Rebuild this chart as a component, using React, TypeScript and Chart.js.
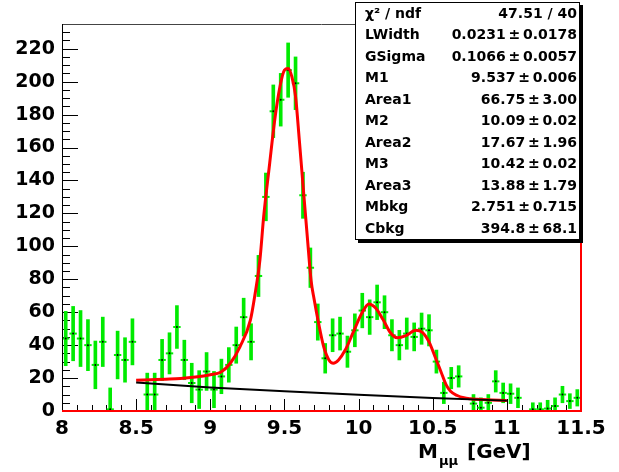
import React, { useEffect, useRef } from "react";
import { Chart, registerables } from "chart.js";

Chart.register(...registerables);

// ---- data ----
const binCenters = [
  8.025, 8.075, 8.125, 8.175, 8.225, 8.275, 8.325, 8.375, 8.425, 8.475,
  8.525, 8.575, 8.625, 8.675, 8.725, 8.775, 8.825, 8.875, 8.925, 8.975,
  9.025, 9.075, 9.125, 9.175, 9.225, 9.275, 9.325, 9.375, 9.425, 9.475,
  9.525, 9.575, 9.625, 9.675, 9.725, 9.775, 9.825, 9.875, 9.925, 9.975,
  10.025, 10.075, 10.125, 10.175, 10.225, 10.275, 10.325, 10.375, 10.425, 10.475,
  10.525, 10.575, 10.625, 10.675, 10.725, 10.775, 10.825, 10.875, 10.925, 10.975,
  11.025, 11.075, 11.125, 11.175, 11.225, 11.275, 11.325, 11.375, 11.425, 11.475,
];
const counts: (number | null)[] = [
  44, 47, 44, 40, 28, 42, 1, 34, 31, 42,
  null, 10, 10, 31, 35, 51, 31, 17, 13, 24,
  13, 21, 28, 40, 57, 42, 82, 130, 182, 189,
  207, 199, 131, 87, 54, 32, 46, 47, 36, 49,
  61, 57, 66, 60, 46, 40, 47, 45, 50, 49,
  30, 11, 20, 21, null, 4.5, 2, 5, 18, 11,
  10.5, 8, null, 1, 1, 1.5, 3, 10, 6, 8,
];
const errors = [
  16.5, 16.5, 17, 15.5, 14.5, 15, 13, 14.5, 13.5, 14,
  0, 13, 13, 12.5, 12.5, 13, 12, 12, 11.5, 11.5,
  11, 10.5, 10.5, 11, 11.5, 11, 12.5, 14.5, 16, 16,
  16.5, 16, 14, 12, 11, 9, 10, 10, 9.5, 10,
  10.5, 10.5, 10.5, 10, 9.5, 9, 9.5, 8.5, 9.5, 9.5,
  7, 6.5, 6.5, 6.5, 0, 5.5, 6, 5, 6.5, 6,
  6, 6, 0, 4, 4, 5, 5, 5, 4.5, 5,
];

const fitMass = [
  8.5, 8.6, 8.7, 8.8, 8.9, 9.0, 9.07, 9.135, 9.2, 9.27, 9.3, 9.335, 9.36, 9.4,
  9.435, 9.47, 9.5, 9.525, 9.55, 9.575, 9.6, 9.63, 9.655, 9.68, 9.7, 9.73,
  9.765, 9.8, 9.83, 9.865, 9.91, 9.965, 10.02, 10.07, 10.115, 10.165, 10.215,
  10.26, 10.32, 10.385, 10.43, 10.475, 10.52, 10.555, 10.59, 10.62, 10.665,
  10.71, 10.755, 10.8, 10.9, 11.0,
];
const fitValue = [
  18.7, 19, 19.3, 19.7, 20.6, 22, 23.5, 29, 39, 55, 70, 92, 118, 150,
  177, 197, 207, 208, 203, 191, 165, 132, 105, 79, 68, 53.5,
  39, 31, 29, 31, 37, 48, 59, 65, 62.5, 55.5, 47.5,
  44.5, 45.8, 49, 47.8, 42, 32, 24, 16, 12, 9.4,
  8, 7.4, 7.1, 6.7, 6.3,
];

const bkgMass = [8.5, 9.0, 9.5, 10.0, 10.5, 11.0];
const bkgValue = [17.3, 14.3, 12.0, 9.8, 7.9, 6.3];

const xTickLabels = [8, 8.5, 9, 9.5, 10, 10.5, 11, 11.5];
const yTickLabels = [0, 20, 40, 60, 80, 100, 120, 140, 160, 180, 200, 220];

const statNames = ["\u03C7\u00B2 / ndf", "LWidth", "GSigma", "M1", "Area1", "M2", "Area2", "M3", "Area3", "Mbkg", "Cbkg"];
const PM = "\u2009\u00B1\u2009";
const statValues = [
  "47.51 / 40",
  "0.0231" + PM + "0.0178",
  "0.1066" + PM + "0.0057",
  "9.537" + PM + "0.006",
  "66.75" + PM + "3.00",
  "10.09" + PM + "0.02",
  "17.67" + PM + "1.96",
  "10.42" + PM + "0.02",
  "13.88" + PM + "1.79",
  "2.751" + PM + "0.715",
  "394.8" + PM + "68.1",
];

const X_MIN = 8;
const X_MAX = 11.5;
const Y_MIN = 0;
const Y_MAX = 235;

const GREEN = "rgb(0,235,0)";
const RED = "rgb(255,0,0)";
const FONT = '"DejaVu Sans", "Liberation Sans", sans-serif';

const rootPlugin = {
  id: "rootFrame",
  beforeDatasetsDraw(chart: any) {
    const { ctx, chartArea: a, scales } = chart;
    const xs = scales.x;
    const ys = scales.y;
    ctx.save();
    ctx.strokeStyle = "#000";
    ctx.lineWidth = 1;
    ctx.beginPath();
    for (let v = Y_MIN; v <= Y_MAX; v += 5) {
      const p = Math.round(ys.getPixelForValue(v)) + 0.5;
      const len = v % 20 === 0 ? 16 : 8;
      ctx.moveTo(a.left, p);
      ctx.lineTo(a.left + len, p);
    }
    for (let i = 0; i <= 35; i++) {
      const v = X_MIN + i * 0.1;
      const p = Math.round(xs.getPixelForValue(v)) + 0.5;
      const len = i % 5 === 0 ? 12 : 6;
      ctx.moveTo(p, a.bottom);
      ctx.lineTo(p, a.bottom - len);
    }
    ctx.stroke();
    ctx.restore();
  },
  afterDatasetsDraw(chart: any) {
    const { ctx, chartArea: a } = chart;
    ctx.save();
    // top frame (gray) and left axis (black)
    ctx.lineWidth = 1;
    ctx.strokeStyle = "#444";
    ctx.beginPath();
    ctx.moveTo(a.left, a.top + 0.5);
    ctx.lineTo(a.right, a.top + 0.5);
    ctx.stroke();
    ctx.strokeStyle = "#000";
    ctx.beginPath();
    ctx.moveTo(a.left + 0.5, a.top);
    ctx.lineTo(a.left + 0.5, a.bottom);
    ctx.stroke();
    // red right and bottom frame lines
    ctx.strokeStyle = RED;
    ctx.lineWidth = 2;
    ctx.beginPath();
    ctx.moveTo(a.right, a.top);
    ctx.lineTo(a.right, a.bottom + 1);
    ctx.moveTo(a.left, a.bottom);
    ctx.lineTo(a.right + 1, a.bottom);
    ctx.stroke();
    ctx.restore();
  },
  afterDraw(chart: any) {
    const { ctx } = chart;
    ctx.save();
    // axis title  M_{mu mu} [GeV]
    ctx.fillStyle = "#000";
    ctx.textBaseline = "alphabetic";
    ctx.textAlign = "left";
    ctx.font = "bold 20px " + FONT;
    ctx.fillText("M", 418, 458);
    ctx.font = "bold 13px " + FONT;
    ctx.fillText("\u03BC\u03BC", 439, 465);
    ctx.font = "bold 20px " + FONT;
    ctx.fillText("[GeV]", 467, 458);

    // stats box
    const bx = 355, by = 2, bw = 225, bh = 238;
    ctx.fillStyle = "#000";
    ctx.fillRect(bx + 3, by + 3, bw, bh);
    ctx.fillStyle = "#fff";
    ctx.fillRect(bx, by, bw, bh);
    ctx.strokeStyle = "#000";
    ctx.lineWidth = 1;
    ctx.strokeRect(bx + 0.5, by + 0.5, bw - 1, bh - 1);
    ctx.fillStyle = "#000";
    ctx.font = "bold 14px " + FONT;
    ctx.textBaseline = "middle";
    for (let i = 0; i < statNames.length; i++) {
      const y = 14 + i * 21.5;
      ctx.textAlign = "left";
      ctx.fillText(statNames[i], 365, y);
      ctx.textAlign = "right";
      ctx.fillText(statValues[i], 577, y);
    }
    ctx.restore();
  },
};

export default function App() {
  const ref = useRef<HTMLCanvasElement | null>(null);

  useEffect(() => {
    const canvas = ref.current;
    if (!canvas) return;

    const barData: any[] = [];
    const capData: any[] = [];
    for (let i = 0; i < binCenters.length; i++) {
      const v = counts[i];
      if (v === null) continue;
      barData.push({ x: binCenters[i], y: [v - errors[i], v + errors[i]] });
      capData.push({ x: binCenters[i], y: v });
    }
    const fitData = fitMass.map((m, i) => ({ x: m, y: fitValue[i] }));
    const bkgData = bkgMass.map((m, i) => ({ x: m, y: bkgValue[i] }));

    const chart = new Chart(canvas, {
      type: "scatter",
      data: {
        datasets: [
          {
            type: "line",
            label: "bkg",
            data: bkgData,
            borderColor: "#000",
            borderWidth: 2,
            pointRadius: 0,
            tension: 0,
            fill: false,
            order: 1,
          } as any,
          {
            type: "line",
            label: "fit",
            data: fitData,
            borderColor: RED,
            borderWidth: 3,
            pointRadius: 0,
            cubicInterpolationMode: "monotone",
            fill: false,
            order: 2,
          } as any,
          {
            type: "scatter",
            label: "markers",
            data: capData,
            pointStyle: "circle",
            pointRadius: 1,
            backgroundColor: "#000",
            borderWidth: 0,
            order: 3,
          } as any,
          {
            type: "scatter",
            label: "caps",
            data: capData,
            pointStyle: "line",
            pointRadius: 3.7,
            borderColor: GREEN,
            borderWidth: 2,
            order: 4,
          } as any,
          {
            type: "bar",
            label: "errors",
            data: barData,
            backgroundColor: GREEN,
            borderWidth: 0,
            barThickness: 3,
            order: 5,
          } as any,
        ],
      },
      options: {
        responsive: false,
        animation: false,
        events: [],
        devicePixelRatio: 1,
        layout: { padding: { left: 0, right: 38, top: 24, bottom: 0 } },
        plugins: {
          legend: { display: false },
          tooltip: { enabled: false },
          title: { display: false },
        },
        scales: {
          x: {
            type: "linear",
            min: X_MIN,
            max: X_MAX,
            offset: false,
            grid: { display: false, drawTicks: false, offset: false },
            border: { display: false },
            afterBuildTicks: (s: any) => {
              s.ticks = xTickLabels.map((v) => ({ value: v }));
            },
            afterFit: (s: any) => {
              s.height = 61;
            },
            ticks: {
              autoSkip: false,
              maxRotation: 0,
              padding: 6,
              color: "#000",
              font: { family: FONT, size: 20, weight: "bold" },
              callback: (v: any) => String(v),
            },
          },
          y: {
            type: "linear",
            min: Y_MIN,
            max: Y_MAX,
            grid: { display: false, drawTicks: false },
            border: { display: false },
            afterBuildTicks: (s: any) => {
              s.ticks = yTickLabels.map((v) => ({ value: v }));
            },
            afterFit: (s: any) => {
              s.width = 62;
            },
            ticks: {
              autoSkip: false,
              padding: 7,
              color: "#000",
              font: { family: FONT, size: 19, weight: "bold" },
              callback: (v: any) => String(v),
            },
          },
        },
      } as any,
      plugins: [rootPlugin],
    });

    return () => chart.destroy();
  }, []);

  return (
    <div style={{ position: "absolute", left: 0, top: 0, width: 619, height: 472, background: "#fff" }}>
      <canvas ref={ref} width={619} height={472} style={{ display: "block" }} />
    </div>
  );
}
